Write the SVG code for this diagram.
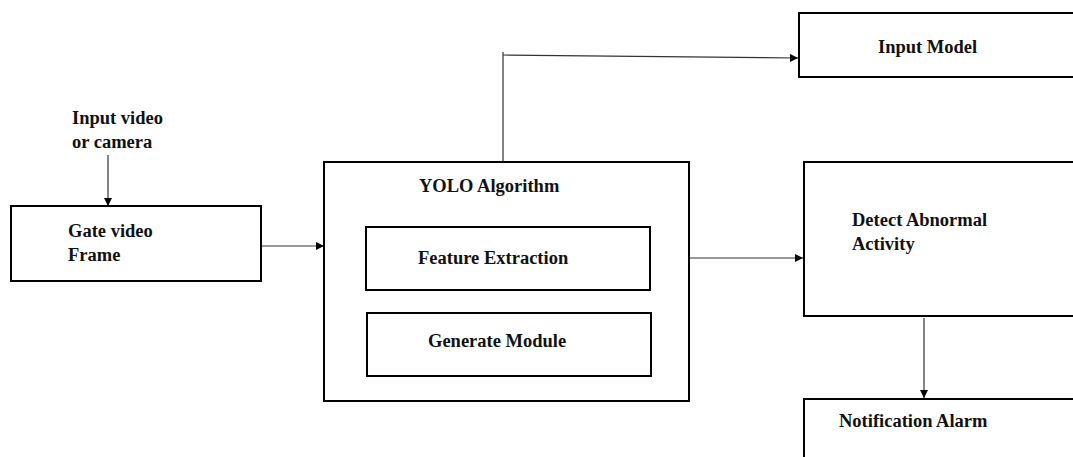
<svg xmlns="http://www.w3.org/2000/svg" width="1073" height="457" viewBox="0 0 1073 457">
  <style>
    .box { fill: #ffffff; stroke: #000000; stroke-width: 2; }
    .lbl { font-family: "Liberation Serif", "Times New Roman", serif; font-weight: bold; font-size: 18.5px; fill: #111111; }
    .conn { fill: none; stroke: #333333; stroke-width: 1.2; }
  </style>
  <defs>
    <marker id="arrow" viewBox="0 0 10 10" refX="10" refY="5" markerWidth="8" markerHeight="8" markerUnits="userSpaceOnUse" orient="auto">
      <path d="M0,0 L10,5 L0,10 Z" fill="#000000"/>
    </marker>
  </defs>
  <rect width="1073" height="457" fill="#ffffff"/>

  <!-- connectors -->
  <g id="connectors">
    <line class="conn" x1="108" y1="155" x2="108" y2="206" marker-end="url(#arrow)"/>
    <line class="conn" x1="261" y1="246" x2="324" y2="246" marker-end="url(#arrow)"/>
    <polyline class="conn" points="503,162 503,52"/>
    <line class="conn" x1="503" y1="55" x2="798" y2="58" marker-end="url(#arrow)"/>
    <line class="conn" x1="689" y1="258" x2="803" y2="258" marker-end="url(#arrow)"/>
    <line class="conn" x1="924" y1="318" x2="924" y2="398" marker-end="url(#arrow)"/>
  </g>

  <!-- source label -->
  <g id="input-source">
    <text class="lbl" x="72" y="124">Input video</text>
    <text class="lbl" x="72" y="148">or camera</text>
  </g>

  <g id="gate-video-frame">
    <rect class="box" x="11" y="206" width="250" height="75"/>
    <text class="lbl" x="68" y="237">Gate video</text>
    <text class="lbl" x="68" y="261">Frame</text>
  </g>

  <g id="yolo-algorithm">
    <rect class="box" x="324" y="162" width="365" height="239"/>
    <text class="lbl" x="419" y="192">YOLO Algorithm</text>
  </g>

  <g id="feature-extraction">
    <rect class="box" x="366" y="227" width="284" height="63"/>
    <text class="lbl" x="418" y="264">Feature Extraction</text>
  </g>

  <g id="generate-module">
    <rect class="box" x="367" y="313" width="284" height="63"/>
    <text class="lbl" x="428" y="347">Generate Module</text>
  </g>

  <g id="input-model">
    <rect class="box" x="799" y="13" width="290" height="64"/>
    <text class="lbl" x="878" y="53">Input Model</text>
  </g>

  <g id="detect-abnormal-activity">
    <rect class="box" x="804" y="162" width="290" height="154"/>
    <text class="lbl" x="852" y="226">Detect Abnormal</text>
    <text class="lbl" x="852" y="250">Activity</text>
  </g>

  <g id="notification-alarm">
    <rect class="box" x="804" y="399" width="290" height="80"/>
    <text class="lbl" x="839" y="427">Notification Alarm</text>
  </g>
</svg>
